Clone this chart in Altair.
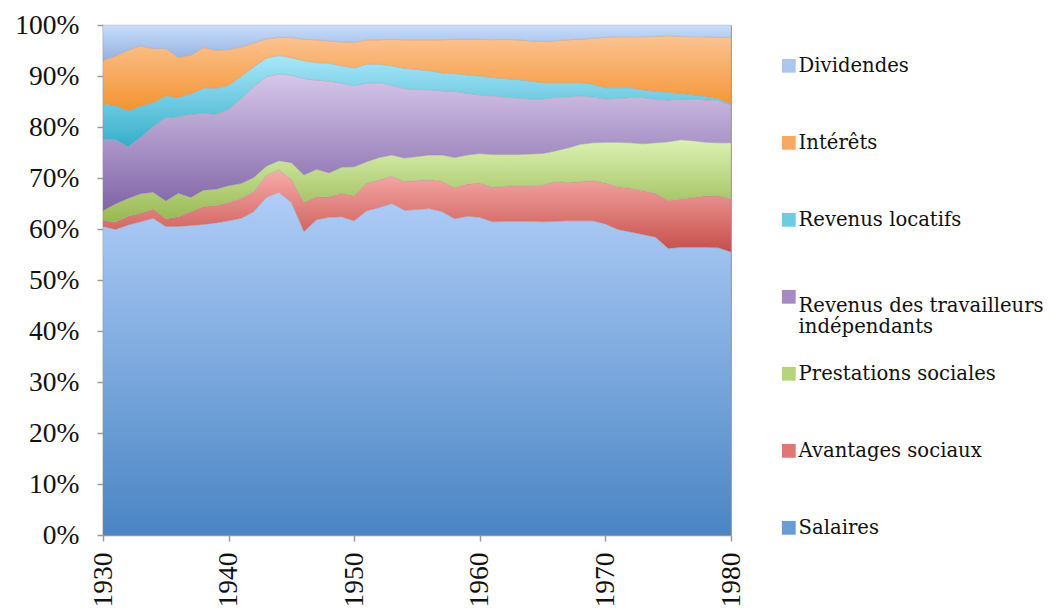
import altair as alt
import pandas as pd

years = list(range(1930, 1981))

# Cumulative upper boundaries (in %) of each stacked band
top_salaires = [60.5, 59.9, 60.8, 61.4, 62.1, 60.5, 60.5, 60.7, 60.9, 61.2,
                61.6, 62.1, 63.4, 66.2, 67.2, 65.2, 59.5, 61.8, 62.3, 62.4,
                61.6, 63.6, 64.2, 65.0, 63.7, 63.8, 64.0, 63.4, 62.0, 62.5,
                62.3, 61.4, 61.5, 61.5, 61.5, 61.4, 61.5, 61.6, 61.6, 61.6,
                61.0, 59.9, 59.4, 58.9, 58.4, 56.2, 56.4, 56.4, 56.4, 56.3, 55.5]
top_avantages = [61.6, 61.4, 62.5, 63.1, 63.9, 62.0, 62.4, 63.4, 64.4, 64.6,
                 65.2, 66.0, 67.3, 70.5, 71.6, 69.7, 65.2, 66.3, 66.3, 67.0,
                 66.5, 69.0, 69.6, 70.4, 69.3, 69.5, 69.7, 69.3, 68.1, 68.8,
                 69.0, 68.2, 68.4, 68.5, 68.5, 68.6, 69.3, 69.1, 69.3, 69.5,
                 69.0, 68.3, 68.0, 67.5, 67.0, 65.6, 65.9, 66.2, 66.5, 66.5, 65.9]
top_prestations = [63.6, 64.9, 66.0, 66.9, 67.2, 65.5, 67.0, 66.2, 67.6, 67.8,
                   68.5, 68.9, 70.1, 72.3, 73.4, 73.0, 70.6, 71.7, 71.0, 72.1,
                   72.2, 73.2, 74.0, 74.5, 73.9, 74.2, 74.5, 74.5, 74.0, 74.5,
                   74.8, 74.6, 74.6, 74.6, 74.7, 74.8, 75.3, 75.9, 76.6, 76.9,
                   77.0, 77.0, 76.9, 76.7, 76.9, 77.1, 77.5, 77.3, 77.0, 76.9, 76.9]
top_independants = [77.6, 77.5, 76.1, 78.0, 80.1, 81.9, 82.0, 82.5, 82.7, 82.5,
                    83.5, 85.6, 87.9, 89.9, 90.4, 90.2, 89.5, 89.2, 89.0, 88.6,
                    88.1, 88.6, 88.7, 88.2, 87.5, 87.4, 87.3, 87.1, 87.0, 86.6,
                    86.3, 86.1, 85.9, 85.7, 85.5, 85.5, 85.8, 85.9, 86.1, 85.9,
                    85.5, 85.6, 85.8, 85.8, 85.4, 85.3, 85.5, 85.5, 85.3, 85.2, 84.3]
top_locatifs = [84.5, 84.2, 83.2, 84.1, 84.8, 86.1, 85.8, 86.5, 87.6, 87.6,
                88.2, 89.9, 91.8, 93.5, 94.0, 93.6, 93.0, 92.6, 92.5, 92.0,
                91.6, 92.3, 92.3, 92.0, 91.5, 91.3, 91.0, 90.6, 90.5, 90.2,
                90.0, 89.7, 89.5, 89.3, 89.0, 88.7, 88.7, 88.7, 88.7, 88.4,
                87.7, 87.7, 87.7, 87.3, 87.0, 86.8, 86.6, 86.3, 86.0, 85.6, 84.5]
top_interets = [93.1, 93.9, 95.1, 95.9, 95.4, 95.4, 93.7, 94.1, 95.6, 95.1,
                95.2, 95.7, 96.5, 97.3, 97.6, 97.6, 97.2, 97.1, 96.9, 96.7,
                96.6, 97.1, 97.1, 97.2, 97.1, 97.1, 97.1, 97.1, 97.2, 97.2,
                97.2, 97.1, 97.2, 97.1, 96.9, 96.8, 96.9, 97.1, 97.2, 97.4,
                97.6, 97.7, 97.7, 97.7, 97.8, 97.9, 97.8, 97.7, 97.7, 97.6, 97.6]
top_dividendes = [100.0] * len(years)

series_names = ["Salaires", "Avantages sociaux", "Prestations sociales",
                "Revenus des travailleurs indépendants", "Revenus locatifs",
                "Intérêts", "Dividendes"]
tops = [top_salaires, top_avantages, top_prestations, top_independants,
        top_locatifs, top_interets, top_dividendes]

# gradient colours (top, bottom) and legend colour
grad_top = ["#b0cdf7", "#f7acaa", "#dcf1b3", "#d6c7ea", "#a9e7f9", "#fcc392", "#c7ddfb"]
grad_bottom = ["#4a85c4", "#c64e4a", "#97b850", "#8064a6", "#35aeca", "#f4932f", "#96b1e0"]
legend_colors = ["#6b9bd6", "#df7774", "#b6d47c", "#a58ac6", "#6fcbe2", "#f9a862", "#aec6ee"]

rows = []
for i, name in enumerate(series_names):
    lower = [0.0] * len(years) if i == 0 else tops[i - 1]
    for j, yr in enumerate(years):
        rows.append({"year": yr, "series": name,
                     "lower": lower[j] / 100.0, "upper": tops[i][j] / 100.0})
df = pd.DataFrame(rows)

x_enc = alt.X("year:Q",
              scale=alt.Scale(domain=[1930, 1980], nice=False, zero=False),
              axis=alt.Axis(values=[1930, 1940, 1950, 1960, 1970, 1980], format="d",
                            labelAngle=-90, title=None, grid=False,
                            tickSize=6, labelPadding=11))
y_enc = alt.Y("upper:Q",
              scale=alt.Scale(domain=[0, 1], nice=False),
              axis=alt.Axis(values=[i / 10 for i in range(11)], format=".0%",
                            title=None, grid=False, tickSize=6, labelPadding=18))

base = alt.Chart(df)
layers = []
for i, name in enumerate(series_names):
    grad = alt.Gradient(gradient="linear",
                        stops=[alt.GradientStop(color=grad_top[i], offset=0),
                               alt.GradientStop(color=grad_bottom[i], offset=1)],
                        x1=0, x2=0, y1=0, y2=1)
    layers.append(
        base.transform_filter(alt.datum.series == name)
        .mark_area(color=grad, stroke="#8c8c8c", strokeWidth=0.4, strokeOpacity=0.6)
        .encode(x=x_enc, y=y_enc, y2="lower:Q")
    )

legend_order = list(reversed(series_names))
legend_layer = base.mark_square(opacity=0, size=1).encode(
    x=alt.X("year:Q"),
    y=alt.Y("upper:Q"),
    color=alt.Color("series:N",
                    scale=alt.Scale(domain=legend_order,
                                    range=list(reversed(legend_colors))),
                    sort=legend_order,
                    legend=alt.Legend(
                        title=None, orient="none", legendX=676, legendY=31,
                        symbolType="square", symbolSize=190, symbolOpacity=1,
                        symbolStrokeWidth=0,
                        labelFont="DejaVu Serif", labelFontSize=19.6,
                        labelColor="#111111", labelLimit=400, labelOffset=0,
                        gridAlign="all", rowPadding=26,
                        labelExpr="datum.label == 'Revenus des travailleurs indépendants' ? ['Revenus des travailleurs', 'indépendants'] : datum.label",
                        labelBaseline=alt.ExprRef("datum.label == 'Revenus des travailleurs indépendants' ? 'top' : 'middle'"),
                    )),
)

chart = alt.layer(*layers, legend_layer).properties(
    width=628, height=510,
    autosize=alt.AutoSizeParams(type="none"),
    padding={"left": 95, "top": 17, "right": 312, "bottom": 73},
).configure_view(
    stroke="#a6a6a6", strokeWidth=1
).configure_axis(
    domainColor="#999999", tickColor="#999999", domainWidth=1.5, tickWidth=1.5,
    labelFont="Liberation Serif", labelFontSize=27.5, labelColor="#111111",
)

chart.save("out.html", embed_options={"renderer": "svg", "actions": False})
